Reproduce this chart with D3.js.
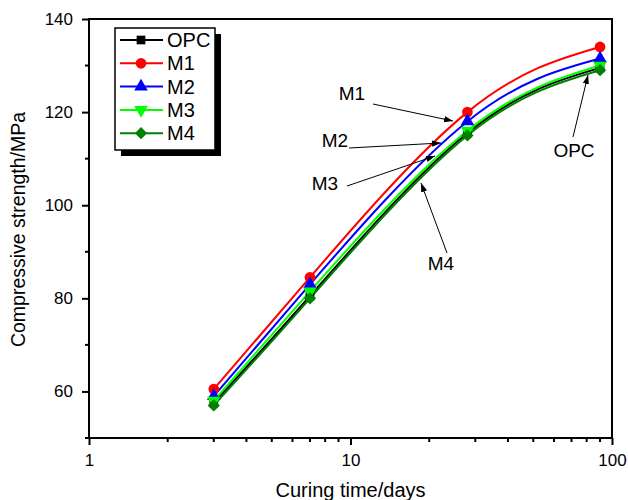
<!DOCTYPE html>
<html><head><meta charset="utf-8">
<script src="https://cdn.jsdelivr.net/npm/d3@7"></script>
<style>body{margin:0;background:#fff}svg{display:block}text{font-family:"Liberation Sans",Arial,sans-serif}</style>
</head><body><svg id="c" width="628" height="500"></svg>
<script>
const days = [3, 7, 28, 90];
const seriesNames = ["OPC", "M1", "M2", "M3", "M4"];
const OPC = [57.5, 80.5, 115.5, 129.5];
const M1 = [60.5, 84.5, 120, 134];
const M2 = [59, 83, 118, 131.5];
const M3 = [58, 81.5, 116, 130];
const M4 = [57, 80, 115, 129];
const xTicks = [1, 10, 100];
const yTicks = [60, 80, 100, 120, 140];
const colors = ["#000000", "#ff0000", "#0000ff", "#00ff00", "#008000"];
const symbols = [d3.symbolSquare, d3.symbolCircle, d3.symbolTriangle, d3.symbolTriangle, d3.symbolSquare];
const rotations = [0, 0, 0, 180, 45];
const sizes = [75, 90, 80, 80, 75];
const values = [OPC, M1, M2, M3, M4];
const annotations = [
  {label:"M1", tx:352, ty:100, x1:373, y1:104, x2:453, y2:121},
  {label:"M2", tx:335, ty:147, x1:349, y1:148, x2:441, y2:143},
  {label:"M3", tx:325, ty:190, x1:347, y1:186, x2:435, y2:156},
  {label:"M4", tx:441, ty:270, x1:447, y1:253, x2:421, y2:183},
  {label:"OPC", tx:574, ty:157, x1:573, y1:137, x2:588, y2:75}
];

const svg = d3.select("#c");
const L = 89, R = 612, T = 19, B = 438;
const x = d3.scaleLog().domain([1, 100]).range([L, R]);
const y = d3.scaleLinear().domain([50, 140]).range([B, T]);

svg.append("defs").append("marker").attr("id","ah").attr("viewBox","0 0 10 10")
  .attr("refX",10).attr("refY",5).attr("markerWidth",9).attr("markerHeight",9)
  .attr("markerUnits","userSpaceOnUse").attr("orient","auto")
  .append("path").attr("d","M0,1.5L10,5L0,8.5Z").attr("fill","#000");

// frame
svg.append("rect").attr("x",L).attr("y",T).attr("width",R-L).attr("height",B-T)
  .attr("fill","none").attr("stroke","#000").attr("stroke-width",2);

// x axis
const xMinor = [];
for (let d = 1; d <= 10; d *= 10) for (let k = 2; k <= 9; k++) xMinor.push(k*d);
const gx = svg.append("g").attr("transform",`translate(0,${B})`);
gx.call(d3.axisBottom(x).tickValues(xTicks).tickFormat(d3.format("d")).tickSize(7).tickPadding(9));
gx.selectAll(".tick line").attr("stroke-width",2);
gx.selectAll(".tick text").attr("font-size",17).attr("font-family","Liberation Sans, Arial");
gx.select(".domain").remove();
gx.selectAll(".minor").data(xMinor).enter().append("line").attr("class","minor")
  .attr("x1",d=>x(d)).attr("x2",d=>x(d)).attr("y1",0).attr("y2",4).attr("stroke","#000").attr("stroke-width",2);

// y axis
const gy = svg.append("g").attr("transform",`translate(${L},0)`);
gy.call(d3.axisLeft(y).tickValues(yTicks).tickSize(7).tickPadding(9));
gy.selectAll(".tick line").attr("stroke-width",2);
gy.selectAll(".tick text").attr("font-size",17).attr("font-family","Liberation Sans, Arial");
gy.select(".domain").remove();
gy.selectAll(".minor").data([50,70,90,110,130]).enter().append("line").attr("class","minor")
  .attr("x1",-4).attr("x2",0).attr("y1",d=>y(d)).attr("y2",d=>y(d)).attr("stroke","#000").attr("stroke-width",2);

// axis titles
svg.append("text").attr("x",(L+R)/2).attr("y",497).attr("text-anchor","middle").attr("font-size",20).text("Curing time/days");
svg.append("text").attr("transform",`translate(25,${(T+B)/2+1}) rotate(-90)`).attr("text-anchor","middle").attr("font-size",19.5).text("Compressive strength/MPa");

// lines
const line = d3.line().x(d=>x(d[0])).y(d=>y(d[1])).curve(d3.curveNatural);
values.forEach((vals,i)=>{
  svg.append("path").datum(days.map((d,j)=>[d,vals[j]])).attr("d",line)
    .attr("fill","none").attr("stroke",colors[i]).attr("stroke-width",2);
});
values.forEach((vals,i)=>{
  svg.selectAll(null).data(days.map((d,j)=>[d,vals[j]])).enter().append("path")
    .attr("d",d3.symbol().type(symbols[i]).size(sizes[i]))
    .attr("transform",d=>`translate(${x(d[0])},${y(d[1])}) rotate(${rotations[i]})`)
    .attr("fill",colors[i]);
});

// annotations
annotations.forEach(a=>{
  svg.append("line").attr("x1",a.x1).attr("y1",a.y1).attr("x2",a.x2).attr("y2",a.y2)
    .attr("stroke","#000").attr("stroke-width",1).attr("marker-end","url(#ah)");
  svg.append("text").attr("x",a.tx).attr("y",a.ty).attr("text-anchor","middle").attr("font-size",19).text(a.label);
});

// legend
const lg = svg.append("g");
lg.append("rect").attr("x",121).attr("y",34).attr("width",100).attr("height",122).attr("fill","#000");
lg.append("rect").attr("x",115).attr("y",28).attr("width",100).attr("height",122).attr("fill","#fff").attr("stroke","#000").attr("stroke-width",1.5);
seriesNames.forEach((n,i)=>{
  const yy = 40 + i*23.3;
  lg.append("line").attr("x1",120).attr("x2",163).attr("y1",yy).attr("y2",yy).attr("stroke",colors[i]).attr("stroke-width",2);
  lg.append("path").attr("d",d3.symbol().type(symbols[i]).size(sizes[i]))
    .attr("transform",`translate(141,${yy}) rotate(${rotations[i]})`).attr("fill",colors[i]);
  lg.append("text").attr("x",167).attr("y",yy+7).attr("font-size",20).text(n);
});
</script></body></html>
